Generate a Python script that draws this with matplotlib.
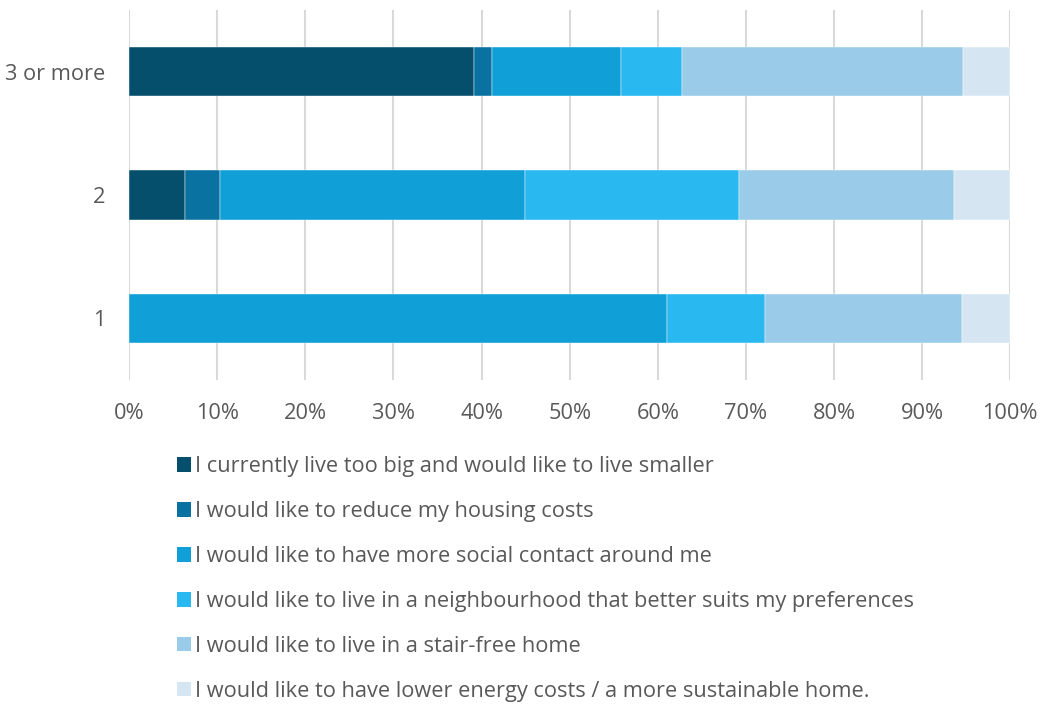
import numpy as np
import matplotlib.pyplot as plt
from matplotlib.patches import Patch

# household size groups, bottom to top
groups = ["1", "2", "3 or more"]

reasons = [
    "I currently live too big and would like to live smaller",
    "I would like to reduce my housing costs",
    "I would like to have more social contact around me",
    "I would like to live in a neighbourhood that better suits my preferences",
    "I would like to live in a stair-free home",
    "I would like to have lower energy costs / a more sustainable home.",
]

# share (%) per reason, one value per group in the order of `groups`
too_big = [0.0, 6.4, 39.2]
housing_costs = [0.0, 3.9, 2.0]
social_contact = [61.1, 34.6, 14.6]
neighbourhood = [11.1, 24.3, 6.9]
stair_free = [22.3, 24.4, 31.9]
energy = [5.5, 6.4, 5.4]

colors = ["#054f6d", "#0a72a0", "#109fd6", "#29b8f0", "#9acbe8", "#d5e6f2"]
text_color = "#595959"

plt.rcParams["font.family"] = ["Open Sans", "DejaVu Sans"]

fig = plt.figure(figsize=(10.41, 7.04), dpi=100)
ax = fig.add_axes([129 / 1041, 1 - 380 / 704, 881.3 / 1041, 370 / 704])

series = [too_big, housing_costs, social_contact, neighbourhood, stair_free, energy]
y = np.arange(len(groups))
left = np.zeros(len(groups))
for vals, col, lab in zip(series, colors, reasons):
    vals = np.array(vals) / 100
    ax.barh(y, vals, left=left, height=0.4, color=col, label=lab,
            edgecolor="white", linewidth=0.3, zorder=3)
    left += vals

ax.set_xlim(0, 1)
ax.set_ylim(-0.5, len(groups) - 0.5)
ax.set_xticks(np.linspace(0, 1, 11))
ax.set_xticklabels([f"{int(round(v * 100))}%" for v in np.linspace(0, 1, 11)])
ax.set_yticks(y)
ax.set_yticklabels(groups)
ax.grid(axis="x", color="#d9d9d9", linewidth=1.5, zorder=0)
for s in ax.spines.values():
    s.set_visible(False)
ax.tick_params(length=0, labelsize=15.7, colors=text_color)
ax.tick_params(axis="x", pad=16.5)
ax.tick_params(axis="y", pad=17)

handles = [Patch(facecolor=c) for c in colors]
fig.legend(handles, reasons, loc="upper left", bbox_to_anchor=(177 / 1041, 1 - 456 / 704),
           frameon=False, fontsize=15.7, labelcolor=text_color,
           handlelength=0.64, handleheight=0.64, handletextpad=0.2,
           labelspacing=1.1, borderpad=0, borderaxespad=0)

fig.savefig("out.png", dpi=100, facecolor="white")
